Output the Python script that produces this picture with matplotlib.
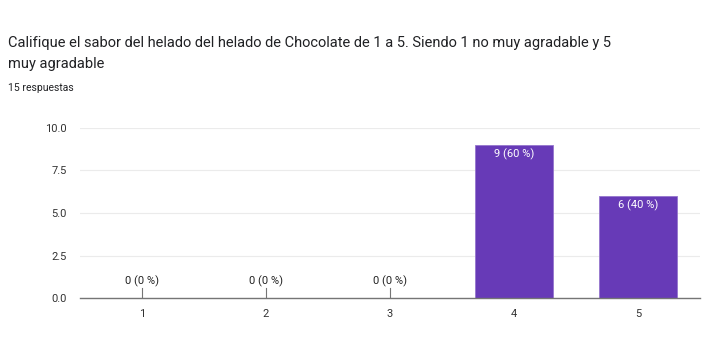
import numpy as np
import matplotlib.pyplot as plt

# Data
categories = ["1", "2", "3", "4", "5"]
counts = [0, 0, 0, 9, 6]
labels = ["0 (0 %)", "0 (0 %)", "0 (0 %)", "9 (60 %)", "6 (40 %)"]
y_ticks = [0.0, 2.5, 5.0, 7.5, 10.0]

W, H = 703, 349
fig = plt.figure(figsize=(W / 100, H / 100), dpi=100)
plt.rcParams['font.family'] = ['Roboto', 'DejaVu Sans']

# Title and subtitle
fig.text(8 / W, 1 - 43 / H, "Califique el sabor del helado del helado de Chocolate de 1 a 5. Siendo 1 no muy agradable y 5",
         fontsize=10.5, color='#202124', va='center', ha='left')
fig.text(8 / W, 1 - 64 / H, "muy agradable", fontsize=10.5, color='#202124', va='center', ha='left')
fig.text(8 / W, 1 - 88 / H, "15 respuestas", fontsize=7.5, color='#202124', va='center', ha='left')

# Plot area
ax = fig.add_axes([80 / W, (H - 298) / H, 620 / W, 170 / H])
x = np.arange(1, len(categories) + 1)
ax.bar(x, counts, width=0.63, color='#673ab7', edgecolor='#9575cd', linewidth=0.6, zorder=3)

for xi, c, lab in zip(x, counts, labels):
    if c > 0:
        ax.text(xi, c - 0.2, lab, ha='center', va='top', color='white', fontsize=8, zorder=4)
    else:
        ax.plot([xi, xi], [0, 0.6], color='#757575', linewidth=0.8, zorder=4)
        ax.text(xi, 0.62, lab, ha='center', va='bottom', color='#222222', fontsize=8, zorder=4)

ax.set_xlim(0.5, 5.5)
ax.set_ylim(0, 10)
ax.set_xticks(x)
ax.set_xticklabels(categories)
ax.set_yticks(y_ticks)
ax.set_yticklabels([f"{v:.1f}" for v in y_ticks])
ax.tick_params(axis='both', length=0, labelsize=8, labelcolor='#333333')
ax.tick_params(axis='x', pad=8)
ax.tick_params(axis='y', pad=9.5)
ax.grid(axis='y', color='#ebebeb', linewidth=0.8, zorder=0)
for s in ['top', 'right', 'left']:
    ax.spines[s].set_visible(False)
ax.spines['bottom'].set_color('#757575')
ax.spines['bottom'].set_linewidth(1.0)
ax.spines['bottom'].set_zorder(5)

fig.savefig("out.png", dpi=100)
